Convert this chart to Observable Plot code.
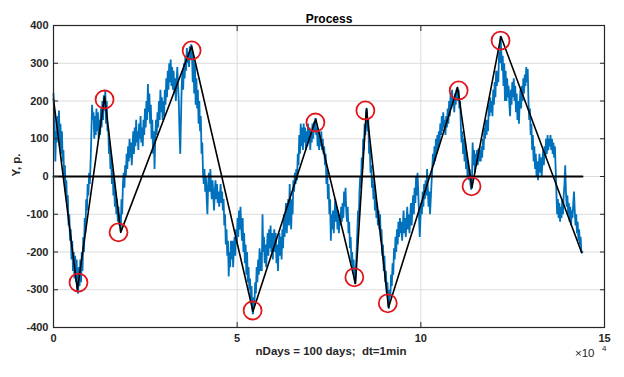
<!DOCTYPE html>
<html><head><meta charset="utf-8">
<script src="https://cdn.jsdelivr.net/npm/d3@7"></script>
<script src="https://cdn.jsdelivr.net/npm/@observablehq/plot@0.6"></script>
<style>body{margin:0;background:#fff}</style>
</head><body><div id="chart"></div>
<script>
const title = "Process";
const xLabel = "nDays = 100 days;  dt=1min";
const yLabel = "Y, p.";
const xMultiplier = "\u00d710";
const xExponent = "4";
const xTicks = [0, 5, 10, 15];
const yTicks = [-400, -300, -200, -100, 0, 100, 200, 300, 400];
const xGrid = [5, 10];
const yGrid = [-300, -200, -100, 0, 100, 200, 300];

// process (time in units of 10^4 min, value in p.)
const process = [
[0.00,220],[0.01,190],[0.03,150],[0.05,40],[0.07,120],[0.09,90],[0.11,160],[0.13,110],[0.15,175],[0.17,80],
[0.19,140],[0.21,60],[0.23,120],[0.25,40],[0.27,70],[0.29,-10],[0.31,30],[0.33,-40],[0.35,-10],[0.37,-80],
[0.39,-50],[0.41,-130],[0.43,-100],[0.45,-170],[0.47,-140],[0.49,-220],[0.51,-170],[0.53,-250],[0.55,-200],[0.57,-270],
[0.59,-210],[0.61,-280],[0.63,-220],[0.65,-300],[0.67,-310],[0.69,-240],[0.71,-290],[0.73,-220],[0.75,-280],[0.77,-200],
[0.79,-250],[0.81,-160],[0.83,-200],[0.85,-110],[0.87,-150],[0.89,-60],[0.91,-90],[0.93,-20],[0.95,-50],[0.97,10],
[0.99,-20],[1.01,40],[1.03,110],[1.05,190],[1.07,150],[1.09,170],[1.11,100],[1.13,160],[1.15,110],[1.17,180],
[1.19,120],[1.21,170],[1.23,100],[1.25,150],[1.27,110],[1.29,180],[1.31,130],[1.33,200],[1.35,150],[1.37,215],
[1.39,175],[1.41,230],[1.43,140],[1.45,200],[1.47,120],[1.49,130],[1.51,60],[1.53,90],[1.55,20],[1.57,50],
[1.59,-20],[1.61,20],[1.63,-50],[1.65,-10],[1.67,-80],[1.69,-40],[1.71,-100],[1.73,-60],[1.75,-120],[1.77,-80],
[1.79,-130],[1.81,-100],[1.83,-145],[1.85,-60],[1.87,-100],[1.89,-20],[1.91,10],[1.93,-30],[1.95,30],[1.97,0],
[1.99,60],[2.01,20],[2.03,80],[2.05,40],[2.07,100],[2.09,50],[2.11,90],[2.13,30],[2.15,70],[2.17,120],
[2.19,60],[2.21,130],[2.23,80],[2.25,150],[2.27,90],[2.29,120],[2.31,70],[2.33,140],[2.35,100],[2.37,160],
[2.39,90],[2.41,130],[2.43,80],[2.45,150],[2.47,110],[2.49,180],[2.51,130],[2.53,200],[2.55,150],[2.57,245],
[2.59,170],[2.61,220],[2.63,140],[2.65,190],[2.67,100],[2.69,150],[2.71,60],[2.73,120],[2.75,20],[2.77,100],
[2.79,150],[2.81,110],[2.83,170],[2.85,130],[2.87,200],[2.89,150],[2.91,230],[2.93,170],[2.95,210],[2.97,150],
[2.99,200],[3.01,160],[3.03,230],[3.05,190],[3.07,260],[3.09,210],[3.11,280],[3.13,230],[3.15,300],[3.17,250],
[3.19,310],[3.21,240],[3.23,290],[3.25,230],[3.27,280],[3.29,220],[3.31,260],[3.33,200],[3.35,250],[3.37,290],
[3.39,240],[3.41,200],[3.43,120],[3.45,60],[3.47,150],[3.49,240],[3.51,280],[3.53,230],[3.55,300],[3.57,260],
[3.59,320],[3.61,280],[3.63,340],[3.65,300],[3.67,330],[3.69,290],[3.71,345],[3.73,310],[3.75,350],[3.77,330],
[3.79,250],[3.81,320],[3.83,220],[3.85,300],[3.87,190],[3.89,260],[3.91,180],[3.93,230],[3.95,140],[3.97,200],
[3.99,120],[4.01,160],[4.03,60],[4.05,90],[4.07,10],[4.09,-20],[4.11,20],[4.13,-40],[4.15,0],[4.17,-60],
[4.19,-100],[4.21,-20],[4.23,10],[4.25,-40],[4.27,20],[4.29,-30],[4.31,-60],[4.33,-10],[4.35,-50],[4.37,-90],
[4.39,-40],[4.41,-10],[4.43,-60],[4.45,-20],[4.47,-70],[4.49,-40],[4.51,-80],[4.53,-50],[4.55,-20],[4.57,-70],
[4.59,-40],[4.61,-90],[4.63,-60],[4.65,-130],[4.67,-100],[4.69,-180],[4.71,-140],[4.73,-210],[4.75,-170],[4.77,-265],
[4.79,-200],[4.81,-240],[4.83,-170],[4.85,-220],[4.87,-170],[4.89,-240],[4.91,-190],[4.93,-160],[4.95,-210],[4.97,-140],
[4.99,-180],[5.01,-110],[5.03,-160],[5.05,-90],[5.07,-140],[5.09,-80],[5.11,-130],[5.13,-170],[5.15,-110],[5.17,-200],
[5.19,-150],[5.21,-230],[5.23,-180],[5.25,-260],[5.27,-200],[5.29,-280],[5.31,-240],[5.33,-300],[5.35,-270],[5.37,-330],
[5.39,-290],[5.41,-350],[5.43,-365],[5.45,-320],[5.47,-340],[5.49,-280],[5.51,-310],[5.53,-240],[5.55,-280],[5.57,-220],
[5.59,-260],[5.61,-190],[5.63,-250],[5.65,-200],[5.67,-250],[5.69,-100],[5.71,-200],[5.73,-160],[5.75,-230],[5.77,-180],
[5.79,-240],[5.81,-190],[5.83,-150],[5.85,-210],[5.87,-140],[5.89,-190],[5.91,-130],[5.93,-200],[5.95,-150],[5.97,-220],
[5.99,-170],[6.01,-140],[6.03,-200],[6.05,-150],[6.07,-230],[6.09,-180],[6.11,-250],[6.13,-190],[6.15,-150],[6.17,-210],
[6.19,-160],[6.21,-220],[6.23,-140],[6.25,-190],[6.27,-100],[6.29,-160],[6.31,-110],[6.33,-70],[6.35,-150],[6.37,-100],
[6.39,-60],[6.41,-130],[6.43,-20],[6.45,-90],[6.47,-140],[6.49,-60],[6.51,-100],[6.53,-10],[6.55,-40],[6.57,10],
[6.59,-20],[6.61,20],[6.63,-10],[6.65,60],[6.67,30],[6.69,110],[6.71,60],[6.73,140],[6.75,80],[6.77,130],
[6.79,70],[6.81,140],[6.83,90],[6.85,130],[6.87,70],[6.89,120],[6.91,80],[6.93,140],[6.95,90],[6.97,130],
[6.99,70],[7.01,120],[7.03,90],[7.05,140],[7.07,100],[7.09,145],[7.11,120],[7.13,155],[7.15,110],[7.17,130],
[7.19,80],[7.21,120],[7.23,70],[7.25,110],[7.27,80],[7.29,120],[7.31,70],[7.33,100],[7.35,60],[7.37,80],
[7.39,30],[7.41,60],[7.43,-20],[7.45,20],[7.47,-60],[7.49,-20],[7.51,-100],[7.53,-60],[7.55,-170],[7.57,-100],
[7.59,-140],[7.61,-90],[7.63,-150],[7.65,-100],[7.67,-60],[7.69,-120],[7.71,-80],[7.73,-140],[7.75,-90],[7.77,-150],
[7.79,-100],[7.81,-130],[7.83,-80],[7.85,-120],[7.87,-70],[7.89,-110],[7.91,-40],[7.93,-80],[7.95,-30],[7.97,-90],
[7.99,-120],[8.01,-80],[8.03,-150],[8.05,-120],[8.07,-190],[8.09,-160],[8.11,-230],[8.13,-200],[8.15,-250],[8.17,-220],
[8.19,-270],[8.21,-285],[8.23,-250],[8.25,-200],[8.27,-150],[8.29,-90],[8.31,-120],[8.33,-40],[8.35,0],[8.37,-30],
[8.39,50],[8.41,20],[8.43,100],[8.45,70],[8.47,140],[8.49,110],[8.51,170],[8.53,180],[8.55,120],[8.57,150],
[8.59,60],[8.61,80],[8.63,10],[8.65,30],[8.67,-30],[8.69,0],[8.71,-60],[8.73,-20],[8.75,-90],[8.77,-50],
[8.79,-110],[8.81,-70],[8.83,-130],[8.85,-90],[8.87,-140],[8.89,-100],[8.91,-170],[8.93,-140],[8.95,-210],[8.97,-180],
[8.99,-250],[9.01,-210],[9.03,-280],[9.05,-250],[9.07,-310],[9.09,-280],[9.11,-330],[9.13,-350],[9.15,-300],[9.17,-320],
[9.19,-260],[9.21,-290],[9.23,-230],[9.25,-260],[9.27,-190],[9.29,-220],[9.31,-160],[9.33,-200],[9.35,-140],[9.37,-180],
[9.39,-120],[9.41,-160],[9.43,-110],[9.45,-150],[9.47,-120],[9.49,-170],[9.51,-130],[9.53,-90],[9.55,-150],[9.57,-110],
[9.59,-160],[9.61,-120],[9.63,-80],[9.65,-140],[9.67,-100],[9.69,-150],[9.71,-110],[9.73,-70],[9.75,-130],[9.77,-90],
[9.79,-50],[9.81,-100],[9.83,-30],[9.85,-70],[9.87,0],[9.89,-50],[9.91,10],[9.93,-40],[9.95,-100],[9.97,-160],
[9.99,-110],[10.01,-70],[10.03,-100],[10.05,-40],[10.07,-80],[10.09,-20],[10.11,-60],[10.13,-10],[10.15,-50],[10.17,20],
[10.19,-30],[10.21,-80],[10.23,-40],[10.25,-100],[10.27,-60],[10.29,-20],[10.31,20],[10.33,60],[10.35,30],[10.37,80],
[10.39,40],[10.41,100],[10.43,60],[10.45,110],[10.47,70],[10.49,120],[10.51,90],[10.53,140],[10.55,110],[10.57,160],
[10.59,120],[10.61,170],[10.63,130],[10.65,150],[10.67,110],[10.69,160],[10.71,130],[10.73,180],[10.75,140],[10.77,200],
[10.79,160],[10.81,220],[10.83,180],[10.85,230],[10.87,190],[10.89,210],[10.91,170],[10.93,220],[10.95,190],[10.97,230],
[10.99,236],[11.01,200],[11.03,230],[11.05,180],[11.07,200],[11.09,130],[11.11,90],[11.13,120],[11.15,60],[11.17,100],
[11.19,40],[11.21,90],[11.23,20],[11.25,60],[11.27,0],[11.29,40],[11.31,-10],[11.33,20],[11.35,-20],[11.37,-35],
[11.39,-20],[11.41,90],[11.43,30],[11.45,70],[11.47,10],[11.49,60],[11.51,30],[11.53,70],[11.55,30],[11.57,75],
[11.59,40],[11.61,70],[11.63,40],[11.65,80],[11.67,50],[11.69,100],[11.71,70],[11.73,130],[11.75,100],[11.77,150],
[11.79,110],[11.81,150],[11.83,120],[11.85,190],[11.87,160],[11.89,210],[11.91,170],[11.93,200],[11.95,160],[11.97,230],
[11.99,190],[12.01,250],[12.03,210],[12.05,280],[12.07,240],[12.09,280],[12.11,250],[12.13,330],[12.15,300],[12.17,372],
[12.19,330],[12.21,280],[12.23,320],[12.25,240],[12.27,300],[12.29,200],[12.31,280],[12.33,200],[12.35,260],[12.37,210],
[12.39,240],[12.41,190],[12.43,160],[12.45,230],[12.47,190],[12.49,250],[12.51,210],[12.53,260],[12.55,200],[12.57,240],
[12.59,170],[12.61,220],[12.63,150],[12.65,200],[12.67,140],[12.69,190],[12.71,230],[12.73,180],[12.75,240],[12.77,200],
[12.79,260],[12.81,220],[12.83,270],[12.85,240],[12.87,290],[12.89,250],[12.91,285],[12.93,200],[12.95,150],[12.97,180],
[12.99,110],[13.01,140],[13.03,70],[13.05,110],[13.07,40],[13.09,80],[13.11,20],[13.13,60],[13.15,0],[13.17,40],
[13.19,-10],[13.21,20],[13.23,60],[13.25,10],[13.27,50],[13.29,0],[13.31,40],[13.33,70],[13.35,30],[13.37,80],
[13.39,50],[13.41,100],[13.43,60],[13.45,110],[13.47,70],[13.49,100],[13.51,80],[13.53,110],[13.55,70],[13.57,100],
[13.59,60],[13.61,90],[13.63,50],[13.65,80],[13.67,20],[13.69,-40],[13.71,-100],[13.73,-60],[13.75,-110],[13.77,-70],
[13.79,-120],[13.81,-80],[13.83,-110],[13.85,-60],[13.87,-100],[13.89,-50],[13.91,-20],[13.93,30],[13.95,-40],[13.97,-80],
[13.99,-50],[14.01,-100],[14.03,-70],[14.05,-120],[14.07,-80],[14.09,-130],[14.11,-90],[14.13,-110],[14.15,-70],[14.17,-40],
[14.19,-90],[14.21,-130],[14.23,-100],[14.25,-150],[14.27,-120],[14.29,-170],[14.31,-140],[14.33,-180],[14.35,-160],[14.37,-200],
[14.40,-200]
];

// zigzag through the detected extrema
const zigX = [0, 0.65, 1.39, 1.83, 3.76, 5.43, 7.14, 8.22, 8.52, 9.12, 11.0, 11.39, 12.18, 14.38];
const zigY = [205, -300, 212, -148, 345, -357, 152, -283, 180, -347, 236, -30, 371, -202];

// red circle markers
const markX = [0.68, 1.39, 1.77, 3.76, 5.42, 7.13, 8.19, 8.49, 9.10, 11.03, 11.38, 12.17];
const markY = [-281, 204, -148, 334, -355, 143, -267, 175, -336, 228, -26, 360];

// horizontal zero line
const zeroX = [0, 14.4];
const zeroY = [0, 0];

const zig = zigX.map((x, i) => ({x, y: zigY[i]}));
const marks = markX.map((x, i) => ({x, y: markY[i]}));
const zero = zeroX.map((x, i) => ({x, y: zeroY[i]}));

const font = "'Liberation Sans', Arial, Helvetica, sans-serif";
const ink = "#262626";

const chart = Plot.plot({
  width: 624,
  height: 377,
  marginLeft: 53,
  marginRight: 20,
  marginTop: 25,
  marginBottom: 50,
  style: {fontFamily: font, fontSize: "11px", background: "#fff", color: ink},
  x: {domain: [0, 15]},
  y: {domain: [-400, 400]},
  marks: [
    Plot.ruleY(yGrid, {stroke: "#dcdcdc", strokeWidth: 1}),
    Plot.ruleX(xGrid, {stroke: "#dcdcdc", strokeWidth: 1}),
    Plot.line(process, {x: d => d[0], y: d => d[1], stroke: "#0072BD", strokeWidth: 1.8, strokeLinejoin: "miter"}),
    Plot.line(zero, {x: "x", y: "y", stroke: "#000", strokeWidth: 2}),
    Plot.line(zig, {x: "x", y: "y", stroke: "#000", strokeWidth: 1.6}),
    Plot.dot(marks, {x: "x", y: "y", r: 9, stroke: "#e0161b", strokeWidth: 1.8, fill: "none"}),
    Plot.frame({stroke: ink, strokeWidth: 1.2}),
    // inward ticks on all four sides
    Plot.axisY(yTicks, {anchor: "left", tickSize: 5, dx: 5, tickFormat: () => "", label: null, stroke: ink}),
    Plot.axisY(yTicks, {anchor: "right", tickSize: 5, dx: -5, tickFormat: () => "", label: null, stroke: ink}),
    Plot.axisX(xTicks, {anchor: "bottom", tickSize: 5, dy: -5, tickFormat: () => "", label: null, stroke: ink}),
    Plot.axisX(xTicks, {anchor: "top", tickSize: 5, dy: 5, tickFormat: () => "", label: null, stroke: ink}),
    // tick labels
    Plot.axisY(yTicks, {anchor: "left", tickSize: 0, tickPadding: 5, tickFormat: d => String(d), label: null, fontWeight: "bold", fill: ink, fontSize: 11}),
    Plot.axisX(xTicks, {anchor: "bottom", tickSize: 0, tickPadding: 7, tickFormat: d => String(d), label: null, fontWeight: "bold", fill: ink, fontSize: 11}),
    // titles
    Plot.text([title], {frameAnchor: "top", dy: -11, fontWeight: "bold", fontSize: 12, fill: "#000"}),
    Plot.text([xLabel], {frameAnchor: "bottom", dy: 27, dx: 2, fontWeight: "bold", fontSize: 11.5, fill: ink}),
    Plot.text([yLabel], {frameAnchor: "left", dx: -37, rotate: -90, fontWeight: "bold", fontSize: 11.5, fill: ink}),
    Plot.text([xMultiplier], {frameAnchor: "bottom-right", dx: -10, dy: 29, fontSize: 11.5, fill: ink}),
    Plot.text([xExponent], {frameAnchor: "bottom-right", dx: 2, dy: 23, fontSize: 8, fill: ink})
  ]
});
document.getElementById("chart").appendChild(chart);
</script>
</body></html>
